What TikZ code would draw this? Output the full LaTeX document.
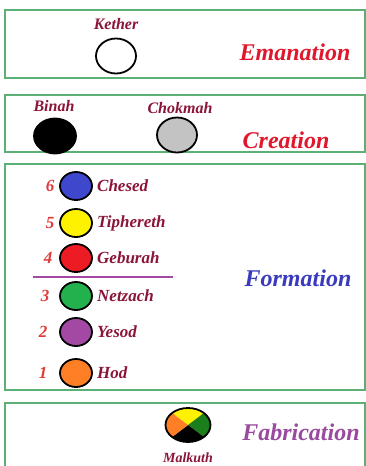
\documentclass[tikz,border=0pt]{standalone}
\usepackage{fontspec}
\setmainfont{Liberation Serif}
\usepackage{tikz}
\usetikzlibrary{shapes.geometric}
\definecolor{frame}{HTML}{5DB075}
\definecolor{sefname}{HTML}{8B1538}
\definecolor{numred}{HTML}{E03A3A}
\definecolor{worldred}{HTML}{E0182D}
\definecolor{worldblue}{HTML}{3A3ABF}
\definecolor{worldpurple}{HTML}{9A4A9E}
\definecolor{pblue}{HTML}{3F48CC}
\definecolor{pyellow}{HTML}{FFF200}
\definecolor{pred}{HTML}{ED1C24}
\definecolor{pgreen}{HTML}{22B14C}
\definecolor{ppurple}{HTML}{A349A4}
\definecolor{porange}{HTML}{FF7F27}
\definecolor{pgrey}{HTML}{C3C3C3}
\definecolor{dgreen}{HTML}{1A7F1A}

\begin{document}
\begin{tikzpicture}[x=1pt,y=-1pt,
  world/.style={draw=frame,line width=1.2pt},
  sefira/.style={ellipse,draw=black,line width=1.8pt,inner sep=0pt,minimum width=32pt,minimum height=28pt},
  bigsef/.style={sefira,minimum width=40pt,minimum height=35pt},
  sname/.style={font=\fontsize{16}{16}\selectfont\bfseries\itshape,text=sefname,inner sep=0pt},
  snum/.style={font=\fontsize{17}{17}\selectfont\bfseries\itshape,text=numred,inner sep=0pt},
  wtitle/.style={font=\fontsize{24}{24}\selectfont\bfseries\itshape,inner sep=0pt}]
\useasboundingbox[fill=white] (0,0) rectangle (366,466);
% the four worlds
\draw[world] (5,10) rectangle (365,78);
\draw[world] (5,95) rectangle (365,152);
\draw[world] (5,164) rectangle (365,390);
\draw[world] (5,470) -- (5,403) -- (365,403) -- (365,470);

% Emanation
\node[sname] (kether-t) at (116,24) {Kether};
\node[bigsef,fill=white] (kether) at (116,56) {};
\node[wtitle,text=worldred] (emanation) at (295,52) {Emanation};

% Creation
\node[sname] (binah-t) at (54,106) {Binah};
\node[bigsef,fill=black,minimum width=42pt] (binah) at (55,136) {};
\node[sname] (chokmah-t) at (180,108) {Chokmah};
\node[bigsef,fill=pgrey] (chokmah) at (177,135) {};
\node[wtitle,text=worldred] (creation) at (286,140) {Creation};

% Formation
\foreach \n/\y/\c/\s/\nx in {6/186/pblue/Chesed/50,5/223/pyellow/Tiphereth/50,4/258/pred/Geburah/48,
                             3/296/pgreen/Netzach/45,2/332/ppurple/Yesod/43,1/373/porange/Hod/43}{
  \node[sefira,fill=\c] (s\n) at (76,\y) {};
  \node[snum] (n\n) at (\nx,\y) {\n};
  \node[sname,font=\fontsize{17}{17}\selectfont\bfseries\itshape,anchor=west] (t\n) at (97,\y) {\s};
}
\coordinate (bar-l) at (33,277);
\coordinate (bar-r) at (173,277);
\draw[ppurple,line width=1.5pt] (bar-l) -- (bar-r);
\node[wtitle,text=worldblue] (formation) at (298,278) {Formation};

% Fabrication
\node[sefira,minimum width=45pt,minimum height=34pt,
  path picture={
    \fill[pyellow] (path picture bounding box.center) -- (path picture bounding box.north west) -- (path picture bounding box.north east) -- cycle;
    \fill[dgreen] (path picture bounding box.center) -- (path picture bounding box.north east) -- (path picture bounding box.south east) -- cycle;
    \fill[black] (path picture bounding box.center) -- (path picture bounding box.south east) -- (path picture bounding box.south west) -- cycle;
    \fill[porange] (path picture bounding box.center) -- (path picture bounding box.south west) -- (path picture bounding box.north west) -- cycle;
  }] (malkuth) at (188,425) {};
\node[sname,font=\fontsize{14}{14}\selectfont\bfseries\itshape] (malkuth-t) at (188,458) {Malkuth};
\node[wtitle,text=worldpurple] (fabrication) at (301,432) {Fabrication};
\end{tikzpicture}
\end{document}
